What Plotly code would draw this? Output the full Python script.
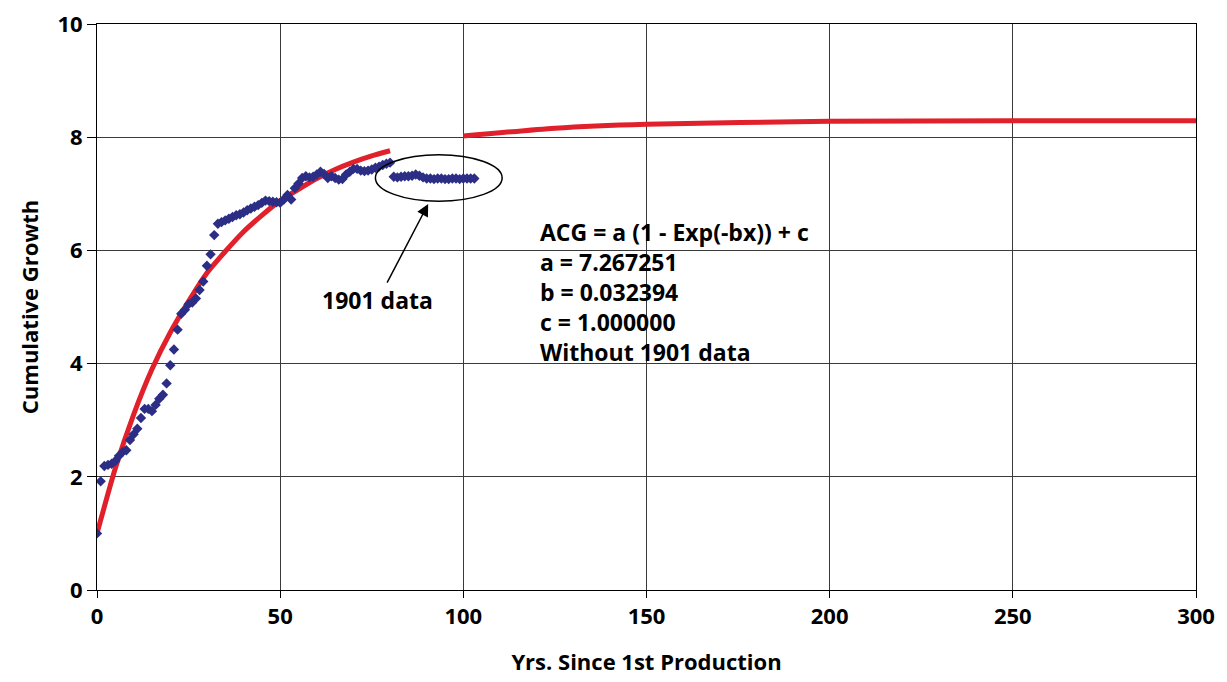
import plotly.graph_objects as go

# Observed cumulative growth, one point per year since 1st production
years = list(range(0, 81))
growth = [
    1.00, 1.92, 2.19, 2.21, 2.23, 2.28, 2.37, 2.44, 2.47, 2.65,
    2.75, 2.85, 3.04, 3.20, 3.20, 3.16, 3.27, 3.38, 3.45, 3.65,
    3.97, 4.25, 4.60, 4.88, 4.95, 5.05, 5.08, 5.15, 5.30, 5.45,
    5.73, 5.93, 6.27, 6.47, 6.50, 6.53, 6.56, 6.59, 6.62, 6.64,
    6.67, 6.71, 6.74, 6.77, 6.80, 6.84, 6.88, 6.87, 6.86, 6.85,
    6.84, 6.90, 6.98, 6.90, 7.10, 7.18, 7.28, 7.31, 7.29, 7.30,
    7.34, 7.39, 7.35, 7.28, 7.31, 7.28, 7.25, 7.26, 7.34, 7.39,
    7.44, 7.44, 7.41, 7.40, 7.41, 7.43, 7.46, 7.48, 7.51, 7.53,
    7.55,
]

# 1901 data (circled)
years_1901 = list(range(81, 104))
growth_1901 = [
    7.30, 7.29, 7.30, 7.31, 7.31, 7.32, 7.34, 7.32, 7.29, 7.27,
    7.27, 7.26, 7.27, 7.27, 7.26, 7.26, 7.27, 7.27, 7.26, 7.27,
    7.27, 7.27, 7.27,
]

# Fitted curve
fit_x1 = [0, 5, 10, 15, 20, 25, 30, 35, 40, 45, 50, 55, 60, 65, 70, 75, 80]
fit_y1 = [1.00, 2.15, 3.10, 3.90, 4.55, 5.10, 5.60, 5.98, 6.33, 6.62,
          6.88, 7.08, 7.27, 7.43, 7.56, 7.67, 7.76]
fit_x2 = [100, 125, 150, 200, 250, 300]
fit_y2 = [8.02, 8.16, 8.23, 8.28, 8.29, 8.29]

fit_text = [
    "ACG = a (1 - Exp(-bx)) + c",
    "a = 7.267251",
    "b = 0.032394",
    "c = 1.000000",
    "Without 1901 data",
]

RED = "#e0202a"
NAVY = "#2c2e85"
FONT = "Open Sans"

fig = go.Figure()

for fx, fy in [(fit_x1, fit_y1), (fit_x2, fit_y2)]:
    fig.add_trace(go.Scatter(
        x=fx, y=fy, mode="lines",
        line={"color": RED, "width": 5, "shape": "spline", "smoothing": 0.6},
        showlegend=False, hoverinfo="skip",
    ))

for dx, dy in [(years, growth), (years_1901, growth_1901)]:
    fig.add_trace(go.Scatter(
        x=dx, y=dy, mode="markers",
        marker={"symbol": "diamond", "size": 8, "color": NAVY},
        showlegend=False,
    ))

# white box behind the fit equation
fig.add_shape(type="rect", x0=117, x1=199, y0=4.04, y1=6.77,
              fillcolor="white", line={"width": 0}, layer="below")

# ellipse round the 1901 data
fig.add_shape(type="circle", x0=76, x1=110.6, y0=6.87, y1=7.69,
              line={"color": "black", "width": 1.5})

fig.add_annotation(
    x=90.4, y=6.82, ax=76.7, ay=5.12, axref="x", ayref="y",
    text="1901 data", showarrow=True,
    arrowhead=2, arrowsize=1.6, arrowwidth=1.5, arrowcolor="black",
    font={"family": FONT, "size": 23, "color": "black", "weight": 700},
)

fig.add_annotation(
    x=120.4, y=5.27, text="<br>".join(fit_text), showarrow=False,
    xanchor="left", yanchor="middle", align="left",
    font={"family": FONT, "size": 23, "color": "black", "weight": 700},
)

axis_common = {
    "showgrid": True, "gridcolor": "#3a3a3a", "gridwidth": 1,
    "zeroline": False, "showline": True, "linecolor": "black", "linewidth": 1,
    "mirror": True, "ticks": "outside", "tickcolor": "black", "automargin": False,
    "ticklabeloverflow": "allow",
    "tickfont": {"family": FONT, "size": 22, "color": "black", "weight": 700},
}

# page body adds 8px round the figure
fig.update_layout(
    width=1219, height=674,
    margin={"l": 89, "r": 31, "t": 16, "b": 92},
    plot_bgcolor="white", paper_bgcolor="white",
    xaxis={
        **axis_common, "range": [0, 300], "tickvals": [0, 50, 100, 150, 200, 250, 300],
        "ticklen": 7,
        "title": {"text": "Yrs. Since 1st Production", "standoff": 25,
                  "font": {"family": FONT, "size": 22, "color": "black", "weight": 700}},
    },
    yaxis={
        **axis_common, "range": [0, 10], "tickvals": [0, 2, 4, 6, 8, 10],
        "ticklen": 9,
        "title": {"text": "Cumulative Growth", "standoff": 12,
                  "font": {"family": FONT, "size": 22, "color": "black", "weight": 700}},
    },
)

fig.write_html("out.html")
